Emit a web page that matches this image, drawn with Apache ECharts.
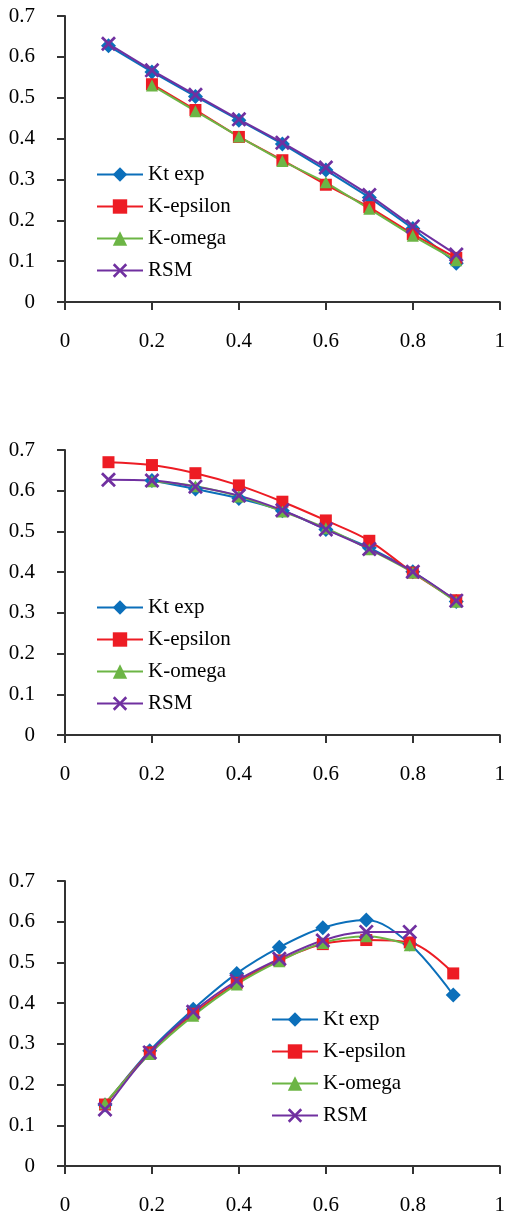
<!DOCTYPE html>
<html>
<head>
<meta charset="utf-8">
<script src="https://cdn.jsdelivr.net/npm/echarts@6/dist/echarts.min.js"></script>
<style>
html,body{margin:0;padding:0;background:#fff;}
#c{width:508px;height:1219px;}
</style>
</head>
<body>
<div id="c"></div>
<script>
// ---------- data ----------
const seriesNames = ['Kt exp', 'K-epsilon', 'K-omega', 'RSM'];
const xTickLabels = ['0', '0.2', '0.4', '0.6', '0.8', '1'];
const yTickLabels = ['0', '0.1', '0.2', '0.3', '0.4', '0.5', '0.6', '0.7'];

// Chart 1
const x1 = [0.1, 0.2, 0.3, 0.4, 0.5, 0.6, 0.7, 0.8, 0.9];
const ktExp1   = [0.627, 0.563, 0.503, 0.445, 0.387, 0.323, 0.256, 0.180, 0.095];
const kEps1    = [null, 0.533, 0.470, 0.404, 0.347, 0.287, 0.232, 0.166, 0.108];
const kOmega1  = [null, 0.530, 0.467, 0.405, 0.345, 0.293, 0.228, 0.162, 0.102];
const rsm1     = [0.632, 0.567, 0.507, 0.447, 0.390, 0.329, 0.262, 0.185, 0.116];

// Chart 2
const x2 = [0.1, 0.2, 0.3, 0.4, 0.5, 0.6, 0.7, 0.8, 0.9];
const ktExp2   = [null, 0.625, 0.604, 0.581, 0.551, 0.505, 0.460, 0.401, 0.328];
const kEps2    = [0.670, 0.663, 0.643, 0.613, 0.573, 0.527, 0.477, 0.399, 0.331];
const kOmega2  = [null, 0.623, 0.611, 0.586, 0.549, 0.508, 0.456, 0.399, 0.327];
const rsm2     = [0.627, 0.625, 0.610, 0.588, 0.552, 0.505, 0.457, 0.401, 0.330];

// Chart 3
const x3 = [0.092, 0.195, 0.295, 0.395, 0.493, 0.593, 0.693, 0.793, 0.893];
const ktExp3   = [0.150, 0.283, 0.385, 0.473, 0.537, 0.585, 0.604, 0.545, 0.420];
const kEps3    = [0.151, 0.279, 0.374, 0.450, 0.505, 0.545, 0.555, 0.549, 0.473];
const kOmega3  = [0.154, 0.275, 0.369, 0.446, 0.503, 0.548, 0.564, 0.542, null];
const rsm3     = [0.139, 0.279, 0.379, 0.455, 0.509, 0.554, 0.575, 0.575, null];

// ---------- styling ----------
const FONT = '"Liberation Serif", "Times New Roman", serif';
const colors = ['#0B6FBA', '#ED1C24', '#6CB545', '#7030A0'];
const xPath = 'path://M0,1.3 L1.3,0 L5,3.7 L8.7,0 L10,1.3 L6.3,5 L10,8.7 L8.7,10 L5,6.3 L1.3,10 L0,8.7 L3.7,5 Z';
const symbols = ['diamond', 'rect', 'triangle', xPath];
const symbolSizes = [15, 12, 12, 15];

const grids = [
  {left: 65, width: 440, top: 16, height: 286},
  {left: 65, width: 440, top: 450, height: 285},
  {left: 65, width: 440, top: 881, height: 285}
];
const legendPos = [
  {left: 96, top: 164},
  {left: 96, top: 597},
  {left: 271, top: 1009}
];
const chartData = [
  {x: x1, ys: [ktExp1, kEps1, kOmega1, rsm1], smooth: false},
  {x: x2, ys: [ktExp2, kEps2, kOmega2, rsm2], smooth: true},
  {x: x3, ys: [ktExp3, kEps3, kOmega3, rsm3], smooth: true}
];

function pairs(xs, ys) {
  const out = [];
  for (let i = 0; i < xs.length; i++) if (ys[i] !== null) out.push([xs[i], ys[i]]);
  return out;
}

const xAxes = [], yAxes = [], series = [], legends = [];
chartData.forEach((cd, gi) => {
  xAxes.push({
    type: 'value', gridIndex: gi, min: 0, max: 1, interval: 0.2,
    axisLine: {show: true, onZero: false, lineStyle: {color: '#333', width: 2}},
    axisTick: {show: true, inside: false, length: 8, lineStyle: {color: '#333', width: 2}},
    splitLine: {show: false},
    axisLabel: {
      margin: 29, color: '#000', fontFamily: FONT, fontSize: 21,
      formatter: v => xTickLabels[Math.round(v / 0.2)]
    }
  });
  yAxes.push({
    type: 'value', gridIndex: gi, min: 0, max: 0.7, interval: 0.1,
    axisLine: {show: true, onZero: false, lineStyle: {color: '#333', width: 2}},
    axisTick: {show: true, inside: false, length: 8, lineStyle: {color: '#333', width: 2}},
    splitLine: {show: false},
    axisLabel: {
      margin: 30, color: '#000', fontFamily: FONT, fontSize: 21,
      formatter: v => yTickLabels[Math.round(v / 0.1)]
    }
  });
  cd.ys.forEach((ys, si) => {
    series.push({
      name: seriesNames[si], type: 'line', xAxisIndex: gi, yAxisIndex: gi,
      data: pairs(cd.x, ys), smooth: cd.smooth ? 0.35 : false,
      symbol: symbols[si], symbolSize: symbolSizes[si], showAllSymbol: true,
      lineStyle: {color: colors[si], width: 2},
      itemStyle: {color: colors[si]},
      emphasis: {disabled: true}, animation: false
    });
  });
  legends.push({
    orient: 'vertical', left: legendPos[gi].left, top: legendPos[gi].top,
    padding: 0, itemWidth: 46, itemHeight: 18, itemGap: 11,
    data: seriesNames,
    textStyle: {fontFamily: FONT, fontSize: 21, color: '#000', lineHeight: 20},
    selectedMode: false
  });
});

const chart = echarts.init(document.getElementById('c'), null, {renderer: 'canvas'});
chart.setOption({
  backgroundColor: '#fff',
  animation: false,
  color: colors,
  grid: grids,
  xAxis: xAxes,
  yAxis: yAxes,
  legend: legends,
  series: series
});
</script>
</body>
</html>
